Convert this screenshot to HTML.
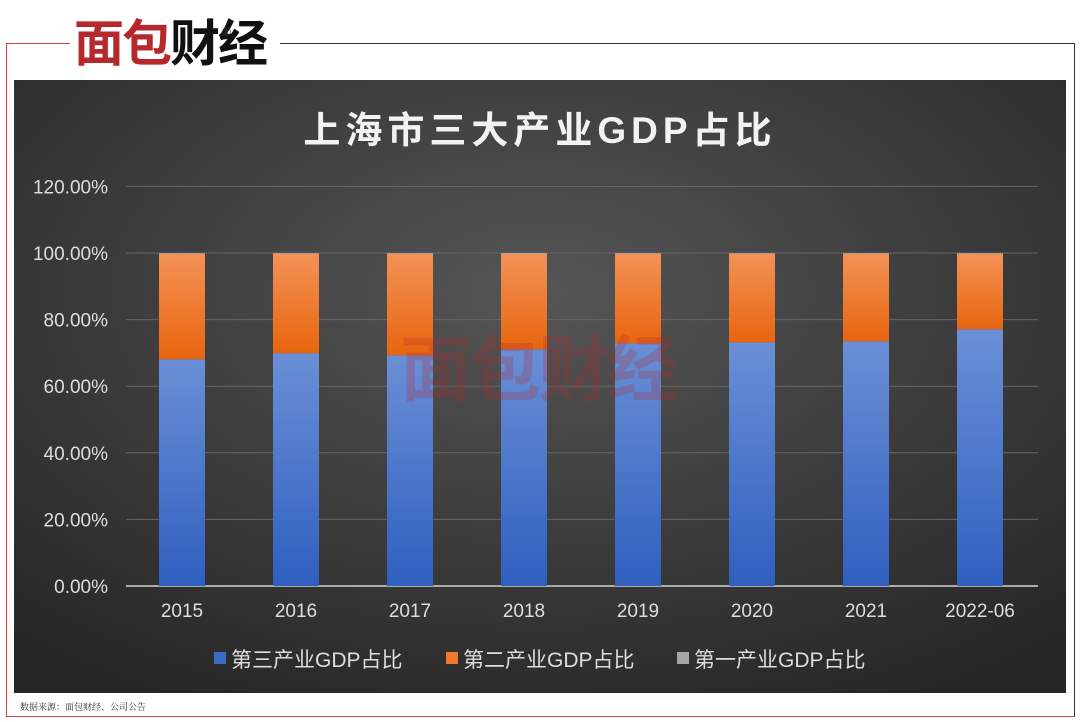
<!DOCTYPE html>
<html><head><meta charset="utf-8"><style>
body{margin:0;width:1080px;height:722px;background:#fff;position:relative;overflow:hidden;font-family:"Liberation Sans","Noto Sans CJK SC",sans-serif}
.abs{position:absolute}
</style></head><body>
<div class="abs" style="left:6px;top:43px;width:1067px;height:673px;border:1px solid #c44;border-top:none;border-right:1px solid #333"></div>
<div class="abs" style="left:6px;top:43px;width:64px;height:1px;background:#c44"></div>
<div class="abs" style="left:280px;top:43px;width:794px;height:1px;background:#333"></div>
<div class="abs" style="left:74px;top:16px;font-size:50px;font-weight:bold;letter-spacing:-2px;line-height:56px"><span style="color:#b5282c">面包</span><span style="color:#111">财经</span><span style="position:absolute;left:148px;top:-12px;font-size:12px;font-weight:normal;color:#333">®</span></div>
<svg class="abs" style="left:0;top:0" width="1080" height="722">
<defs>
<radialGradient id="bg" cx="0.5" cy="0.35" r="0.75"><stop offset="0" stop-color="#555"/><stop offset="1" stop-color="#262626"/></radialGradient>
<linearGradient id="bl" x1="0" y1="0" x2="0" y2="1"><stop offset="0" stop-color="#6a8fd6"/><stop offset="1" stop-color="#2f5fbf"/></linearGradient>
<linearGradient id="or" x1="0" y1="0" x2="0" y2="1"><stop offset="0" stop-color="#f39257"/><stop offset="1" stop-color="#e8650f"/></linearGradient>
</defs>
<rect x="14" y="80" width="1052" height="613" fill="url(#bg)"/>
<text x="540" y="143" text-anchor="middle" fill="#f2f2f2" font-size="37" font-weight="bold" letter-spacing="5">上海市三大产业GDP占比</text>
<g id="g"></g>
<text x="20" y="710" font-size="9" fill="#333" font-family="Noto Serif CJK SC,serif">数据来源：面包财经、公司公告</text>
</svg>
<script>
const categories=["2015","2016","2017","2018","2019","2020","2021","2022-06"];
const tertiary=[68.1,69.9,69.3,71.1,72.9,73.2,73.5,77.1];
const secondary=[31.7,29.9,30.5,28.6,26.9,26.6,26.3,22.7];
const primary=[0.2,0.2,0.2,0.3,0.2,0.2,0.2,0.2];
const yTicks=[0,20,40,60,80,100,120];
const yTickLabels=["0.00%","20.00%","40.00%","60.00%","80.00%","100.00%","120.00%"];
const NS="http://www.w3.org/2000/svg",g=document.getElementById('g');
const y=v=>586-v*(586-253)/100, x=i=>182+i*114;
function mk(t,a,txt){const e=document.createElementNS(NS,t);for(const k in a)e.setAttribute(k,a[k]);if(txt)e.textContent=txt;g.appendChild(e);return e;}
yTicks.forEach((v,i)=>{
 const l=mk('line',{x1:126,x2:1038,y1:y(v),y2:y(v),stroke:v?'#666':'#aaa','stroke-width':v?1:2});
 
 
 const t=mk('text',{x:108,y:y(v)+7,'text-anchor':'end',fill:'#ddd','font-size':19},yTickLabels[i]);
 
 
});
categories.forEach((c,i)=>{
 const b=mk('rect',{x:x(i)-23,y:y(tertiary[i]),width:46,height:y(0)-y(tertiary[i]),fill:'url(#bl)'});
 
 
 const s=tertiary[i]+secondary[i];
 const o=mk('rect',{x:x(i)-23,y:y(s),width:46,height:y(tertiary[i])-y(s),fill:'url(#or)'});
 
 
 const p=mk('rect',{x:x(i)-23,y:y(s+primary[i]),width:46,height:y(s)-y(s+primary[i]),fill:'#a5a5a5'});
 
 
 const t=mk('text',{x:x(i),y:617,'text-anchor':'middle',fill:'#ddd','font-size':19},c);
 
 
});
const wm=mk('text',{x:538,y:395,'text-anchor':'middle','font-size':72,'font-weight':'bold',fill:'#b5282c','fill-opacity':0.25,'letter-spacing':-3},'面包财经');


const leg=[["第三产业GDP占比","#3a6cc8",214],["第二产业GDP占比","#ee7a2a",446],["第一产业GDP占比","#a5a5a5",677]];
leg.forEach(d=>{
 const r=mk('rect',{x:d[2],y:652,width:12,height:12,fill:d[1]});
 
 
 const t=mk('text',{x:d[2]+17,y:667,fill:'#ddd','font-size':21},d[0]);
 
 
});
</script>
</body></html>
